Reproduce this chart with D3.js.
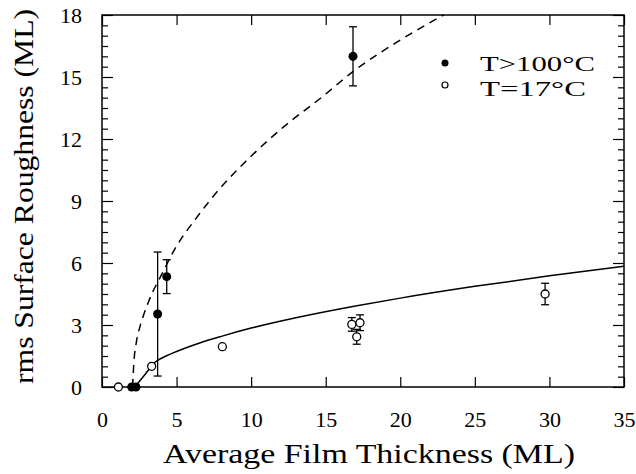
<!DOCTYPE html>
<html>
<head>
<meta charset="utf-8">
<title>rms roughness</title>
<script src="https://cdn.jsdelivr.net/npm/d3@7"></script>
<style>
  body { margin: 0; background: #fff; }
</style>
</head>
<body>
<div id="chart"></div>
<script>
// data
// T>100°C (filled)
const hotX   = [1.99, 2.28, 3.73, 4.34, 16.83];
const hotY   = [0, 0, 3.53, 5.34, 16.0];
const hotErr = [0, 0, 3.0, 0.82, 1.43];
// T=17°C (open)
const coldX   = [1.1, 3.33, 8.07, 16.75, 17.3, 17.08, 29.71];
const coldY   = [0, 1.0, 1.95, 3.03, 3.11, 2.43, 4.5];
const coldErr = [0, 0, 0, 0.33, 0.38, 0.36, 0.52];
// fitted curves (traced)
const dashX = [2.05, 2.15, 2.3, 2.5, 2.75, 3.0, 3.4, 3.9, 4.9, 6.35, 7.9, 9.9, 12.2, 14.7, 16.9, 19.8, 22.9];
const dashY = [0.0, 1.3, 2.15, 2.8, 3.4, 3.9, 4.6, 5.3, 6.7, 8.2, 9.6, 11.1, 12.6, 14.0, 15.3, 16.7, 18.0];
const solidX = [2.2, 2.9, 3.6, 4.3, 5, 6.5, 8, 10, 13, 17, 20, 25, 30, 35];
const solidY = [0, 0.62, 1.22, 1.5, 1.72, 2.12, 2.45, 2.85, 3.35, 3.92, 4.3, 4.87, 5.38, 5.84];
const xTicks = [0, 5, 10, 15, 20, 25, 30, 35];
const yTicks = [0, 3, 6, 9, 12, 15, 18];
const legendLabels = ["T>100°C", "T=17°C"];

const width = 636, height = 474;
const margin = {top: 15, right: 12, bottom: 87, left: 102};
const font = "'Liberation Serif', 'Times New Roman', Times, serif";

const x = d3.scaleLinear().domain([0, 35]).range([margin.left, width - margin.right]);
const y = d3.scaleLinear().domain([0, 18]).range([height - margin.bottom, margin.top]);

const svg = d3.select("#chart").append("svg")
    .attr("width", width)
    .attr("height", height)
    .attr("font-family", font);

// axes with inward ticks
svg.append("g")
    .attr("transform", `translate(0,${y(0)})`)
    .call(d3.axisBottom(x).tickValues(xTicks).tickSizeInner(-10).tickSizeOuter(0).tickPadding(24))
    .attr("font-family", font).attr("font-size", 22)
    .call(g => g.select(".domain").remove());

svg.append("g")
    .attr("transform", `translate(0,${y(18)})`)
    .call(d3.axisTop(x).tickValues(xTicks).tickSizeInner(-10).tickSizeOuter(0).tickFormat(""))
    .call(g => g.select(".domain").remove());

const minor = d3.range(0, 18.01, 0.5).filter(v => v % 3 !== 0);

svg.append("g")
    .attr("transform", `translate(${x(0)},0)`)
    .call(d3.axisLeft(y).tickValues(yTicks).tickSizeInner(-11).tickSizeOuter(0).tickPadding(20))
    .attr("font-family", font).attr("font-size", 22)
    .call(g => g.select(".domain").remove());

svg.append("g")
    .attr("transform", `translate(${x(0)},0)`)
    .call(d3.axisLeft(y).tickValues(minor).tickSizeInner(-6).tickSizeOuter(0).tickFormat(""))
    .call(g => g.select(".domain").remove());

svg.append("g")
    .attr("transform", `translate(${x(35)},0)`)
    .call(d3.axisRight(y).tickValues(yTicks).tickSizeInner(-11).tickSizeOuter(0).tickFormat(""))
    .call(g => g.select(".domain").remove());

svg.append("g")
    .attr("transform", `translate(${x(35)},0)`)
    .call(d3.axisRight(y).tickValues(minor).tickSizeInner(-6).tickSizeOuter(0).tickFormat(""))
    .call(g => g.select(".domain").remove());

svg.selectAll(".tick line").attr("stroke", "#000").attr("stroke-width", 1.2);
svg.selectAll(".tick text").attr("fill", "#000");

// frame
svg.append("rect")
    .attr("x", x(0)).attr("y", y(18))
    .attr("width", x(35) - x(0)).attr("height", y(0) - y(18))
    .attr("fill", "none").attr("stroke", "#000").attr("stroke-width", 1.5);

// curves
const line = d3.line().x(d => x(d[0])).y(d => y(d[1])).curve(d3.curveMonotoneX);

svg.append("path")
    .datum(d3.zip(dashX, dashY))
    .attr("d", line)
    .attr("fill", "none").attr("stroke", "#000").attr("stroke-width", 1.5)
    .attr("stroke-dasharray", "8,6");

svg.append("path")
    .datum(d3.zip(solidX, solidY))
    .attr("d", line)
    .attr("fill", "none").attr("stroke", "#000").attr("stroke-width", 1.5);

// error bars
function errorBars(xs, ys, es) {
  const g = svg.append("g").attr("stroke", "#000").attr("stroke-width", 1.3);
  const d = d3.zip(xs, ys, es).filter(p => p[2] > 0);
  g.selectAll("line.v").data(d).join("line")
      .attr("x1", p => x(p[0])).attr("x2", p => x(p[0]))
      .attr("y1", p => y(p[1] - p[2])).attr("y2", p => y(p[1] + p[2]));
  g.selectAll("line.t").data(d).join("line")
      .attr("x1", p => x(p[0]) - 4).attr("x2", p => x(p[0]) + 4)
      .attr("y1", p => y(p[1] + p[2])).attr("y2", p => y(p[1] + p[2]));
  g.selectAll("line.b").data(d).join("line")
      .attr("x1", p => x(p[0]) - 4).attr("x2", p => x(p[0]) + 4)
      .attr("y1", p => y(p[1] - p[2])).attr("y2", p => y(p[1] - p[2]));
}
errorBars(hotX, hotY, hotErr);
errorBars(coldX, coldY, coldErr);

svg.append("g").selectAll("circle")
    .data(d3.zip(coldX, coldY)).join("circle")
    .attr("cx", d => x(d[0])).attr("cy", d => y(d[1])).attr("r", 4)
    .attr("fill", "#fff").attr("stroke", "#000").attr("stroke-width", 1.3);

svg.append("g").selectAll("circle")
    .data(d3.zip(hotX, hotY)).join("circle")
    .attr("cx", d => x(d[0])).attr("cy", d => y(d[1])).attr("r", 4.5)
    .attr("fill", "#000");

// legend
const leg = svg.append("g");
leg.append("circle").attr("cx", 445).attr("cy", 63).attr("r", 3.5).attr("fill", "#000");
leg.append("circle").attr("cx", 445).attr("cy", 85).attr("r", 3)
    .attr("fill", "#fff").attr("stroke", "#000").attr("stroke-width", 1.2);
leg.selectAll("text").data(legendLabels).join("text")
    .attr("x", 480)
    .attr("y", (d, i) => 71 + i * 24.5)
    .attr("font-size", 22)
    .attr("textLength", (d, i) => i === 0 ? 115 : 106)
    .attr("lengthAdjust", "spacingAndGlyphs")
    .text(d => d);

// axis titles
svg.append("text")
    .attr("x", 163).attr("y", 463)
    .attr("font-size", 27)
    .attr("textLength", 412)
    .attr("lengthAdjust", "spacingAndGlyphs")
    .text("Average Film Thickness (ML)");

svg.append("text")
    .attr("transform", "translate(33,384) rotate(-90)")
    .attr("font-size", 27)
    .attr("textLength", 375)
    .attr("lengthAdjust", "spacingAndGlyphs")
    .text("rms Surface Roughness (ML)");
</script>
</body>
</html>
